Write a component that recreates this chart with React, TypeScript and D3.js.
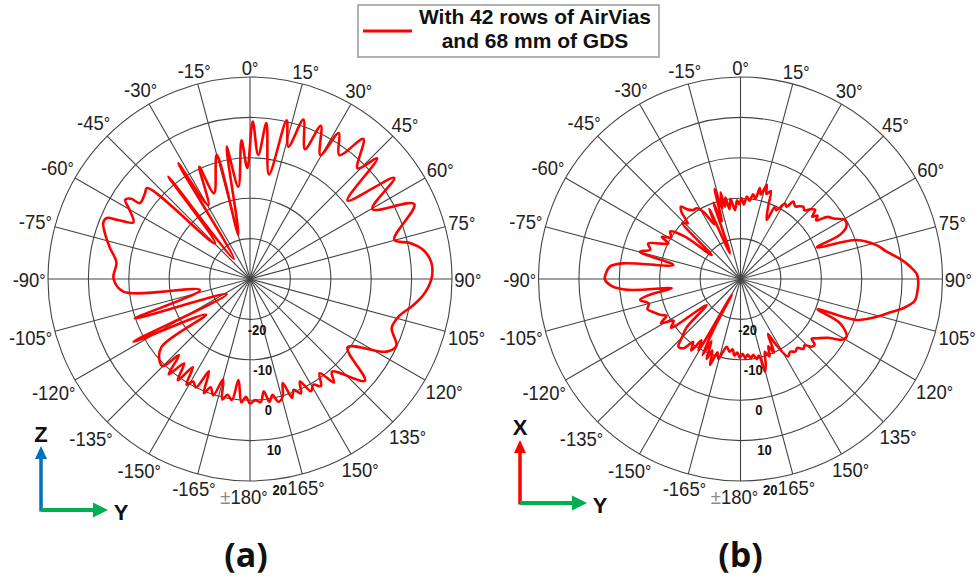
import React from "react";
import * as d3 from "d3";

// angular grid (deg, clockwise from top) and its labels
const angleTicks = [0, 15, 30, 45, 60, 75, 90, 105, 120, 135, 150, 165, 180, -165, -150, -135, -120, -105, -90, -75, -60, -45, -30, -15];
const angleTickLabels = ["0", "15", "30", "45", "60", "75", "90", "105", "120", "135", "150", "165", "180", "-165", "-150", "-135", "-120", "-105", "-90", "-75", "-60", "-45", "-30", "-15"];

// radial grid in dB
const radialDomain = [-30, 20];
const radialTicks = [-20, -10, 0, 10, 20];

const legendLines = ["With 42 rows of AirVias", "and 68 mm of GDS"];

// (a) pattern, trace order: angle (deg) / gain (dB)
const aAngle = [
  1.0, 3.8, 6.0, 10.3, 13.0, 16.2, 18.5, 23.0, 24.8, 29.6, 31.3, 35.8, 39.0, 44.2, 46.5, 51.2, 55.0, 60.3, 65.5, 74.8,
  77.3, 80.5, 85.0, 90.0, 95.0, 99.0, 104.0, 109.0, 114.5, 118.0, 125.0, 131.5, 138.5,
  141, 143.5, 146.5, 149, 151.5, 154, 156, 158.5, 160.5, 162.5, 164.5, 167, 169, 171, 173, 175, 177.5, 180,
  182, 184, 186.5, 188.5, 191, 193, 195, 197.5, 200, 202, 204, 206.5, 209, 211, 213, 215.5, 218, 220.5, 223, 225, 227.5,
  232.5, 231, 241.7, 236.7, 251.1, 257.6, 264.3, 270.3, 277, 282.5, 287.6, 291, 293.1, 294, 295.9, 300, 302.4, 304, 304.6, 309,
  311.5, 315.5, 321.4, 321.3, 328.2, 330.6, 335.7, 337.2, 345, 345.2, 350, 352.8, 356.5, 358.6,
];
const aGain = [
  9.0, 0.8, 8.8, -3.7, 10.3, 4.1, 11.6, 4.9, 11.8, 5.3, 12.3, 7.8, 14.6, 8.2, 13.4, 1.0, 13.6, 4.9, 14.7, 7.0,
  10.6, 13.5, 15.1, 14.9, 13.2, 11.0, 8.0, 7.1, 9.8, 8.3, -0.5, 8.0, 0.6,
  3.0, -1.0, 1.8, 0.5, 1.6, -1.8, 1.0, -0.5, 1.2, -3.0, 0.2, 1.2, -0.8, 0.8, -2.0, 0.6, 0.0, 0.8,
  -0.8, 0.6, -4.8, 0.3, -0.8, 0.6, -4.3, 0.2, -1.5, 0.5, -5.0, 0.0, -1.0, 0.5, -4.0, 0.8, -3.5, 1.0, -4.2, 0.5, 0.3,
  -2.4, -16, 2.8, -23.1, 0.1, -17.3, 1.5, 3.8, 3.3, 5.5, 7.7, 8.9, 8.5, 6.1, 2.1, 4.5, 6.6, 5.5, 3.1, 3.5,
  4.0, -17.6, 2.4, -23.6, 3.7, -9.0, 0.5, -7.0, 1.8, -18.7, 3.3, -7.0, 4.4, -2.5,
];

// (b) pattern, trace order
const bAngle = [
  0.8, 2.5, 4.5, 6.5, 8.5, 10.5, 12, 13.5, 15.6, 17, 19, 21, 23.9, 25.5, 27.5, 30.5, 32.5, 34.3, 37, 39, 41, 43, 45, 47.2,
  49, 50.5, 52.2, 54.5, 57, 60.5, 63.5, 66, 67.5, 71.4, 76, 79.4, 83, 85.8, 88.5, 91, 94, 97, 100.2, 102.5, 105.5, 109.4,
  111.5, 114, 118.5, 121, 124, 127.9, 130, 131.5, 133.6, 136, 138, 140.5, 143, 145.7, 148.5, 151.8, 153.5, 155.5, 157.5,
  159.5, 161.5, 163.5, 165.2, 166.5, 168.5, 170.5, 172.5, 174.5, 176.5, 178.5, 180.5, 182.5, 184.5, 186.5, 188.5, 191.5,
  193.5, 195.5, 197.5, 199.5, 201.5, 203, 205, 206.5, 208, 209, 210.5, 212.5, 214.5, 217, 219.5, 222.6, 225, 228, 232.5,
  235, 238, 241, 243.5, 246, 249, 252, 255, 258.2, 260.5, 262.3, 264.5, 267, 270, 272, 275.4, 277.6, 281.8, 285.2, 288,
  291, 294, 296.3, 298.2, 301, 304, 307.3, 309.8, 314, 316.5, 318.5, 320.5, 323, 325.6, 328.2, 331, 334.5, 336, 337.8,
  340.5, 342, 344, 345.5, 347, 347.9, 349.5, 351, 353, 355.4, 357.5, 359,
];
const bGain = [
  -10, -11.5, -9.5, -10.5, -8.8, -9.8, -7.0, -8.5, -5.8, -8, -7, -11, -14, -10.2, -10.8, -8.3, -8.8, -6.8, -7.5, -6.8, -6.3, -6.8, -5.6, -4.8,
  -6.5, -5.3, -6.3, -3.5, -2.5, -0.3, -0.7, -3, -9.5, 0.3, 4.7, 6.8, 10, 12.1, 13.7, 14.0, 13.9, 13.5, 10.9, 8, 5.0, 0.5,
  -9.5, -3, -0.1, -0.8, -4, -6.1, -7, -5.5, -5.7, -7.2, -6.7, -7.9, -7.5, -8.2, -7.5, -11.9, -14.8, -10, -12,
  -9.5, -11, -8, -6.3, -10.5, -9.8, -11, -10.2, -11.2, -10.4, -11.5, -10.5, -11.8, -11, -12.5, -11.8, -12.9,
  -11.5, -9.5, -11, -7.4, -11, -8.5, -13, -9, -15.7, -25.5, -9.5, -12, -8.5, -10.5, -7.8, -7.3, -9.5, -12, -19.4,
  -9, -10.5, -7.5, -9.5, -8.2, -7, -5.8, -6.5, -4.6, -8, -12.8, -2, 2, 3.6, 3.4, 2.5, -0.7, -13, -4.2, -6.5,
  -5.5, -8.5, -10.1, -7.9, -10, -9, -12.7, -20.7, -10, -11, -8, -6.8, -8.5, -9.3, -9.4, -11, -15, -11, -23.1,
  -10, -15, -6.8, -12, -8, -11.7, -9.5, -12.5, -10, -12.9, -10.5, -11.5,
];

const FONT = "'Liberation Sans', Arial, sans-serif";
const R = 202;

function PolarPanel({ cx, cy, angles, gains }) {
  const rScale = d3.scaleLinear().domain(radialDomain).range([0, R]);
  const rings = radialTicks.map((t) => rScale(t));
  const pts = angles.map((a, i) => [a, gains[i]]);
  const linePath = d3
    .lineRadial()
    .angle((d) => (d[0] * Math.PI) / 180)
    .radius((d) => rScale(d[1]))
    .curve(d3.curveCatmullRomClosed.alpha(0.5))(pts);

  const fs = 21;
  const sx = 0.88;
  const charW = (c) => (c === "-" ? 0.333 : c === "±" ? 0.584 : 0.556) * fs * sx;

  return (
    <g transform={`translate(${cx},${cy})`}>
      {rings.map((r, i) => (
        <circle key={i} r={r} fill="none" stroke="#444" strokeWidth={1.1} />
      ))}
      {angleTicks.map((a, i) => {
        const t = (a * Math.PI) / 180;
        return (
          <line key={i} x1={0} y1={0} x2={R * Math.sin(t)} y2={-R * Math.cos(t)} stroke="#444" strokeWidth={1.1} />
        );
      })}
      <path d={linePath} fill="none" stroke="#ff0000" strokeWidth={2.6} strokeLinejoin="round" />
      {angleTicks.map((a, i) => {
        const label = angleTickLabels[i];
        const t = (a * Math.PI) / 180;
        const isPm = a === 180;
        const w = (isPm ? charW("±") : 0) + label.split("").reduce((s, c) => s + charW(c), 0) + 7;
        const rr = R + 2 + Math.abs(Math.sin(t)) * (w / 2) + Math.abs(Math.cos(t)) * 7.5 + (isPm ? 6 : 0);
        const x = rr * Math.sin(t) - (isPm ? 6 : 0);
        const y = -rr * Math.cos(t);
        return (
          <text
            key={i}
            transform={`translate(${x},${y}) scale(${sx},1)`}
            textAnchor="middle"
            dy="0.36em"
            fontFamily={FONT}
            fontSize={fs}
            fill="#222"
          >
            {isPm && <tspan fill="#8a8a8a">±</tspan>}
            {label}
            <tspan fontSize={18}>°</tspan>
          </text>
        );
      })}
      {radialTicks.map((v, i) => {
        const t = (172 * Math.PI) / 180;
        const rr = rScale(v) + 11;
        return (
          <text
            key={i}
            transform={`translate(${rr * Math.sin(t)},${-rr * Math.cos(t)}) scale(0.9,1)`}
            textAnchor="middle"
            dy="0.36em"
            fontFamily={FONT}
            fontWeight="bold"
            fontSize={14.5}
            fill="#111"
          >
            {v}
          </text>
        );
      })}
    </g>
  );
}

function AxisIcon({ x0, y0, upColor, rightLen, upLen, upLabel, upLabelY, rightLabelX, rightLabelY }) {
  return (
    <g>
      <line x1={x0} y1={y0 + 1.5} x2={x0} y2={y0 - upLen + 11} stroke={upColor} strokeWidth={3.5} />
      <polygon points={`${x0},${y0 - upLen} ${x0 - 6},${y0 - upLen + 13} ${x0 + 6},${y0 - upLen + 13}`} fill={upColor} />
      <line x1={x0} y1={y0} x2={x0 + rightLen - 13} y2={y0} stroke="#00b050" strokeWidth={4} />
      <polygon points={`${x0 + rightLen},${y0} ${x0 + rightLen - 15},${y0 - 7.5} ${x0 + rightLen - 15},${y0 + 7.5}`} fill="#00b050" />
      <text x={x0} y={upLabelY} textAnchor="middle" fontFamily={FONT} fontWeight="bold" fontSize={22} fill="#111">
        {upLabel}
      </text>
      <text x={rightLabelX} y={rightLabelY} textAnchor="middle" fontFamily={FONT} fontWeight="bold" fontSize={22} fill="#111">
        Y
      </text>
    </g>
  );
}

export default function App() {
  return (
    <svg width={980} height={584} style={{ position: "absolute", left: 0, top: 0, background: "#fff" }}>
      <rect x={0} y={0} width={980} height={584} fill="#fff" />
      <PolarPanel cx={250} cy={279} angles={aAngle} gains={aGain} />
      <PolarPanel cx={740.5} cy={279} angles={bAngle} gains={bGain} />

      {/* legend */}
      <rect x={358} y={5} width={301} height={52} fill="#fff" stroke="#999" strokeWidth={1.5} />
      <line x1={363} y1={31} x2={412} y2={31} stroke="#ff0000" strokeWidth={3} />
      {legendLines.map((l, i) => (
        <text key={i} x={535} y={24.3 + i * 24} textAnchor="middle" fontFamily={FONT} fontWeight="bold" fontSize={21} fill="#111">
          {l}
        </text>
      ))}

      <AxisIcon x0={41} y0={510} upColor="#0070c0" upLen={64} rightLen={67} upLabel="Z" upLabelY={442} rightLabelX={121} rightLabelY={520} />
      <AxisIcon x0={520} y0={503} upColor="#ff0000" upLen={63} rightLen={67} upLabel="X" upLabelY={435} rightLabelX={600} rightLabelY={513} />

      <text x={246} y={567} textAnchor="middle" fontFamily="'Open Sans', sans-serif" fontWeight="bold" fontSize={34} fill="#111">
        (a)
      </text>
      <text x={740.5} y={567} textAnchor="middle" fontFamily="'Open Sans', sans-serif" fontWeight="bold" fontSize={34} fill="#111">
        (b)
      </text>
    </svg>
  );
}
